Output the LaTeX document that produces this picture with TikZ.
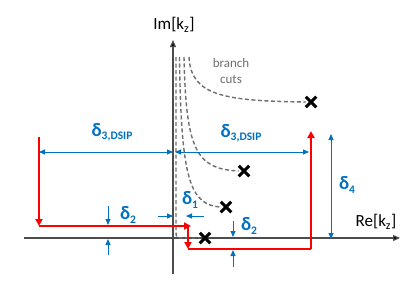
\documentclass[tikz,border=0pt]{standalone}
\usepackage{fontspec}
\setmainfont{Carlito}
\usetikzlibrary{arrows.meta,shapes.misc}
\definecolor{dimblue}{RGB}{0,112,192}
\definecolor{cutgray}{RGB}{110,110,110}
\definecolor{contred}{RGB}{255,0,0}
\newcommand{\dlab}[1]{{\fontsize{19}{19}\selectfont\bfseries δ}\raisebox{-3.5pt}{\fontsize{11.5}{11.5}\selectfont\bfseries #1}}
\begin{document}
\begin{tikzpicture}[x=1pt,y=-1pt,
  axis/.style={draw=black!70,line width=1.2pt,-{Triangle[length=7pt,width=6pt,fill=black]}},
  cut/.style={draw=cutgray,line width=1.4pt,dash pattern=on 4pt off 2.5pt},
  contour/.style={draw=contred,line width=2.2pt},
  carr/.style={contour,-{Triangle[length=7pt,width=7pt]}},
  dimline/.style={draw=dimblue,line width=0.9pt},
  dimarr/.style={dimline,-{Triangle[length=6pt,width=5pt]}},
  dimboth/.style={dimline,{Triangle[length=6pt,width=5pt]}-{Triangle[length=6pt,width=5pt]}},
  dimlab/.style={text=dimblue,inner sep=0pt},
  pole/.style={cross out,draw=black,line width=3pt,minimum size=7.5pt,inner sep=0pt}]
\useasboundingbox (0,0) rectangle (415,284);
% axes
\coordinate (reL) at (24,238);
\coordinate (reR) at (400,238);
\coordinate (imB) at (173,274);
\coordinate (imT) at (173,40);
\draw[axis] (reL) -- (reR);
\draw[axis] (imB) -- (imT);
\node[inner sep=0pt] (imlab) at (174,25) {\fontsize{17}{17}\selectfont Im[k\textsubscript{z}]};
\node[inner sep=0pt] (relab) at (376,222) {\fontsize{17}{17}\selectfont Re[k\textsubscript{z}]};
% poles
\node[pole] (p1) at (311,102) {};
\node[pole] (p2) at (244,171) {};
\node[pole] (p3) at (226,207) {};
\node[pole] (p4) at (205,238) {};
% branch cuts
\coordinate (c1) at (189,57);
\coordinate (c2) at (184,57);
\coordinate (c3) at (179.5,57);
\coordinate (c4) at (176,57);
\draw[cut] (c1) .. controls (191,95) and (222,101) .. (p1.west);
\draw[cut] (c2) .. controls (186,150) and (196,169) .. (p2.west);
\draw[cut] (c3) .. controls (181,180) and (190,205) .. (p3.west);
\draw[cut] (c4) -- (176,230) .. controls (176,238) .. (184,238) -- (p4.west);
\node[text=cutgray,align=center,inner sep=0pt,font=\fontsize{13}{16}\selectfont] (bc) at (231,71) {branch\\cuts};
% contour
\coordinate (r1) at (39,137);
\coordinate (r2) at (39,226);
\coordinate (r3) at (191,226);
\coordinate (r3b) at (188,226);
\coordinate (r4) at (188,249);
\coordinate (r5) at (311,249);
\coordinate (r6) at (311,131);
\draw[carr] (r1) -- (r2);
\draw[carr] (r2) -- (r3);
\draw[carr] (r3b) -- (r4);
\draw[contour,line cap=square] (r4) -- (r5);
\draw[carr] (r5) -- (r6);
% dimensions
\coordinate (d3a) at (39,152);
\coordinate (d3b) at (173,152);
\coordinate (d3c) at (175,152);
\coordinate (d3d) at (309,152);
\draw[dimboth] (d3a) -- (d3b);
\draw[dimboth] (d3c) -- (d3d);
\node[dimlab] (l3a) at (112,132) {\dlab{3,DSIP}};
\node[dimlab] (l3b) at (241,133) {\dlab{3,DSIP}};
\coordinate (d4a) at (331,134);
\coordinate (d4b) at (331,239);
\draw[dimboth] (d4a) -- (d4b);
\node[dimlab] (l4) at (347,185) {\dlab{4}};
% delta2 left
\coordinate (a1s) at (108,206);
\coordinate (a1e) at (108,225);
\coordinate (a2s) at (108,255);
\coordinate (a2e) at (108,239);
\draw[dimarr] (a1s) -- (a1e);
\draw[dimarr] (a2s) -- (a2e);
\node[dimlab] (l2a) at (128,215) {\dlab{2}};
% delta2 right
\coordinate (b1s) at (233,221);
\coordinate (b1e) at (233,237);
\coordinate (b2s) at (233,267);
\coordinate (b2e) at (233,250);
\draw[dimarr] (b1s) -- (b1e);
\draw[dimarr] (b2s) -- (b2e);
\node[dimlab] (l2b) at (249,226) {\dlab{2}};
% delta1
\coordinate (e1s) at (158,216);
\coordinate (e1e) at (173,216);
\coordinate (e2s) at (204,216);
\coordinate (e2e) at (186,216);
\draw[dimarr] (e1s) -- (e1e);
\draw[dimarr] (e2s) -- (e2e);
\node[dimlab] (l1) at (190,200) {\dlab{1}};
\end{tikzpicture}
\end{document}
